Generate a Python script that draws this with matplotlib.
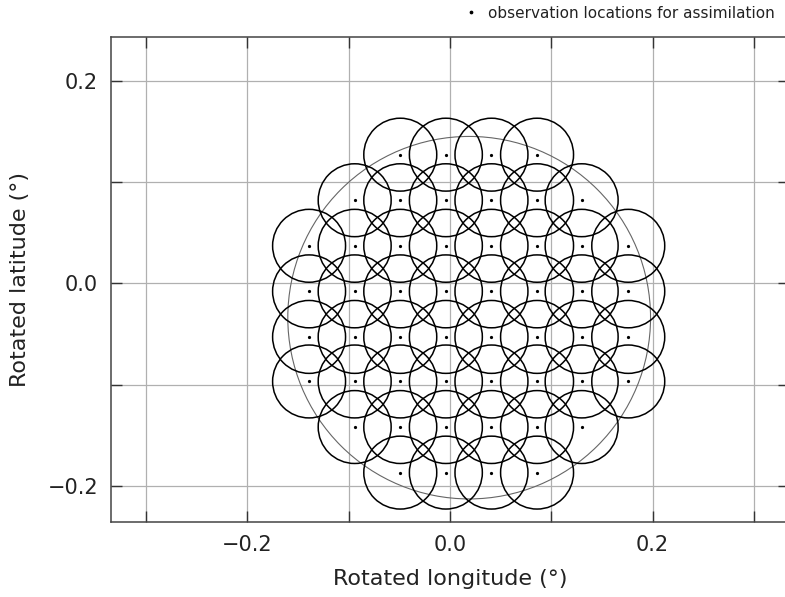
import matplotlib
matplotlib.use("Agg")
import matplotlib.pyplot as plt
from matplotlib.patches import Circle
from matplotlib.ticker import MultipleLocator, FuncFormatter

# observation locations (rotated lon / lat, degrees), read row by row from top
obs_lon = [
    -0.049, -0.004, 0.041, 0.086,
    -0.094, -0.049, -0.004, 0.041, 0.086, 0.130,
    -0.139, -0.094, -0.049, -0.004, 0.041, 0.086, 0.130, 0.176,
    -0.139, -0.094, -0.049, -0.004, 0.041, 0.086, 0.130, 0.176,
    -0.139, -0.094, -0.049, -0.004, 0.041, 0.086, 0.130, 0.176,
    -0.139, -0.094, -0.049, -0.004, 0.041, 0.086, 0.130, 0.176,
    -0.094, -0.049, -0.004, 0.041, 0.086, 0.130,
    -0.049, -0.004, 0.041, 0.086,
]
obs_lat = [
    0.127, 0.127, 0.127, 0.127,
    0.082, 0.082, 0.082, 0.082, 0.082, 0.082,
    0.037, 0.037, 0.037, 0.037, 0.037, 0.037, 0.037, 0.037,
    -0.008, -0.008, -0.008, -0.008, -0.008, -0.008, -0.008, -0.008,
    -0.053, -0.053, -0.053, -0.053, -0.053, -0.053, -0.053, -0.053,
    -0.097, -0.097, -0.097, -0.097, -0.097, -0.097, -0.097, -0.097,
    -0.142, -0.142, -0.142, -0.142, -0.142, -0.142,
    -0.187, -0.187, -0.187, -0.187,
]
obs_radius = 0.036

domain_center = (0.019, -0.034)
domain_radius = 0.179

xlim = (-0.3348, 0.3348)
ylim = (-0.2361, 0.2429)

plt.rcParams["font.family"] = ["DejaVu Sans"]

fig = plt.figure(figsize=(7.85, 5.97), dpi=100)
ax = fig.add_axes([0.141, 0.1251, 0.8643, 0.8124])

ax.set_xlim(*xlim)
ax.set_ylim(*ylim)

# grid every 0.1, labels every 0.2
ax.xaxis.set_major_locator(MultipleLocator(0.1))
ax.yaxis.set_major_locator(MultipleLocator(0.1))


def even_only(v, pos):
    if abs(round(v * 10)) % 2 == 1:
        return ""
    return f"{v:.1f}".replace("-", "\u2212")


ax.xaxis.set_major_formatter(FuncFormatter(even_only))
ax.yaxis.set_major_formatter(FuncFormatter(even_only))
ax.grid(True, color="#b0b0b0", linewidth=0.9)
ax.set_axisbelow(True)

ax.tick_params(direction="in", length=8, width=1.0, color="#333333",
               top=True, right=True, labelsize=15, pad=9,
               labelcolor="#222222")
for sp in ax.spines.values():
    sp.set_color("#444444")
    sp.set_linewidth(1.1)

# domain outline
ax.add_patch(Circle(domain_center, domain_radius, fill=False,
                    edgecolor="#666666", linewidth=0.8))

# localisation circles around each observation
for lon, lat in zip(obs_lon, obs_lat):
    ax.add_patch(Circle((lon, lat), obs_radius, fill=False,
                        edgecolor="black", linewidth=1.1))

ax.plot(obs_lon, obs_lat, "o", color="black", markersize=1.3,
        linestyle="none", label="observation locations for assimilation")

ax.set_xlabel("Rotated longitude (°)", fontsize=16, labelpad=10, color="#222222")
ax.set_ylabel("Rotated latitude (°)", fontsize=16, labelpad=13, color="#222222")

ax.legend(loc="upper right", bbox_to_anchor=(0.998, 1.006),
          bbox_transform=fig.transFigure, frameon=False, fontsize=11,
          handletextpad=0.6, handlelength=1.0, borderaxespad=0.2,
          markerscale=1.3, labelcolor="#222222")

fig.savefig("out.png", dpi=100)
